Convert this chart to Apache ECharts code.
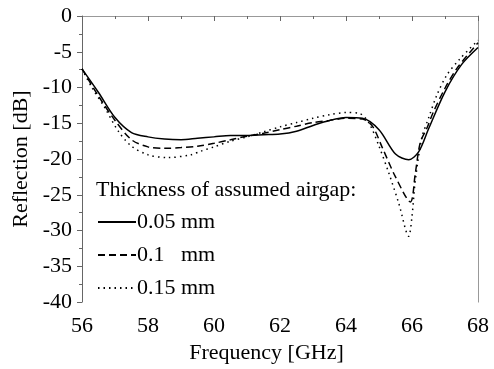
<!DOCTYPE html>
<html>
<head>
<meta charset="utf-8">
<script src="https://cdn.jsdelivr.net/npm/echarts@6/dist/echarts.min.js"></script>
<style>html,body{margin:0;padding:0;background:#fff}#c{width:494px;height:369px}</style>
</head>
<body>
<div id="c"></div>
<script>
var seriesNames = ['0.05 mm', '0.1   mm', '0.15 mm'];
var legendTitle = 'Thickness of assumed airgap:';
var xTicks = [56, 58, 60, 62, 64, 66, 68];
var yTicks = [0, -5, -10, -15, -20, -25, -30, -35, -40];

var freqA = [56, 56.5, 57, 57.5, 58, 58.5, 59, 59.5, 60, 60.5, 61, 61.5, 62, 62.5, 63, 63.5, 64, 64.5, 65, 65.5, 65.9, 66.2, 66.5, 67, 67.5, 68];
var reflA = [-7.4, -10.7, -14.2, -16.3, -16.9, -17.2, -17.3, -17.1, -16.9, -16.7, -16.7, -16.6, -16.5, -16.1, -15.3, -14.6, -14.2, -14.3, -15.9, -19.3, -20.1, -19.0, -15.8, -10.6, -6.8, -4.4];

var freqB = [56, 56.5, 57, 57.5, 58, 58.5, 59, 59.5, 60, 60.5, 61, 61.5, 62, 62.5, 63, 63.5, 64, 64.5, 64.8, 65.1, 65.5, 65.95, 66.1, 66.25, 66.45, 66.65, 67, 67.35, 67.75, 68];
var reflB = [-7.4, -11.2, -14.6, -17.3, -18.3, -18.5, -18.4, -18.2, -17.8, -17.3, -16.8, -16.4, -15.9, -15.4, -14.9, -14.6, -14.3, -14.4, -15.4, -18.4, -22.5, -26.0, -22.0, -17.7, -15.7, -13.4, -10.1, -7.4, -5.1, -3.75];

var freqC = [56, 56.3, 56.7, 57.1, 57.5, 58, 58.6, 59.3, 59.6, 60, 60.5, 61, 61.5, 62, 62.5, 63, 63.5, 64, 64.4, 64.7, 65.0, 65.3, 65.6, 65.9, 66.0, 66.1, 66.3, 66.5, 66.75, 67.05, 67.45, 68];
var reflC = [-7.4, -10.0, -12.9, -16.1, -18.2, -19.4, -19.8, -19.4, -18.9, -18.3, -17.5, -16.9, -16.2, -15.5, -14.9, -14.3, -13.8, -13.5, -13.6, -15.0, -18.2, -22.0, -26.2, -30.8, -28.0, -23.0, -17.0, -14.3, -11.1, -8.3, -6.0, -3.4];

function pairs(xs, ys) { return xs.map(function (x, i) { return [x, ys[i]]; }); }

var font = '"Liberation Serif", "Times New Roman", serif';
var chart = echarts.init(document.getElementById('c'));
chart.setOption({
  animation: false,
  backgroundColor: '#fff',
  grid: { left: 82, right: 16, top: 16, bottom: 62, containLabel: false },
  xAxis: [{
    type: 'value', min: 56, max: 68, interval: 2,
    name: 'Frequency [GHz]', nameLocation: 'middle', nameGap: 33,
    nameTextStyle: { fontFamily: font, fontSize: 22, color: '#000', padding: [0, 27, 0, 0] },
    axisLine: { show: true, lineStyle: { color: '#666', width: 1 } },
    axisTick: { show: true, length: 5, lineStyle: { color: '#666' } },
    minorTick: { show: true, splitNumber: 2, length: 3, lineStyle: { color: '#666' } },
    splitLine: { show: false },
    axisLabel: { fontFamily: font, fontSize: 22, color: '#000', margin: 13,
      formatter: function (v) { return xTicks.indexOf(v) >= 0 ? String(v) : ''; } }
  }, {
    type: 'value', min: 56, max: 68, position: 'top',
    axisLine: { show: true, onZero: false, lineStyle: { color: '#999', width: 1 } },
    axisTick: { show: false }, axisLabel: { show: false }, splitLine: { show: false }
  }],
  yAxis: [{
    type: 'value', min: -40, max: 0, interval: 5,
    name: 'Reflection [dB]', nameLocation: 'middle', nameGap: 45,
    nameTextStyle: { fontFamily: font, fontSize: 22, color: '#000' },
    axisLine: { show: true, onZero: false, lineStyle: { color: '#666', width: 1 } },
    axisTick: { show: true, length: 5, lineStyle: { color: '#666' } },
    minorTick: { show: true, splitNumber: 2, length: 3, lineStyle: { color: '#666' } },
    splitLine: { show: false },
    axisLabel: { fontFamily: font, fontSize: 22, color: '#000', margin: 10,
      formatter: function (v) { return yTicks.indexOf(v) >= 0 ? String(v) : ''; } }
  }, {
    type: 'value', min: -40, max: 0, position: 'right',
    axisLine: { show: true, onZero: false, lineStyle: { color: '#999', width: 1 } },
    axisTick: { show: false }, axisLabel: { show: false }, splitLine: { show: false }
  }],
  legend: {
    orient: 'vertical', left: 92, top: 206,
    itemWidth: 38, itemHeight: 14, itemGap: 11,
    itemStyle: { opacity: 0 },
    textStyle: { fontFamily: font, fontSize: 22, color: '#000', padding: [0, 0, 0, -4] },
    data: seriesNames
  },
  graphic: [{
    type: 'text', left: 96, top: 179,
    style: { text: legendTitle, font: '22px ' + font, fill: '#000' }
  }],
  series: [{
    name: seriesNames[0], type: 'line', symbol: 'none', smooth: 0.3,
    lineStyle: { color: '#000', width: 1.5, type: 'solid' },
    data: pairs(freqA, reflA)
  }, {
    name: seriesNames[1], type: 'line', symbol: 'none', smooth: 0.3,
    lineStyle: { color: '#000', width: 1.5, type: [7, 4] },
    data: pairs(freqB, reflB)
  }, {
    name: seriesNames[2], type: 'line', symbol: 'none', smooth: 0.3,
    lineStyle: { color: '#000', width: 1.5, type: [1.5, 4] },
    data: pairs(freqC, reflC)
  }]
});
</script>
</body>
</html>
